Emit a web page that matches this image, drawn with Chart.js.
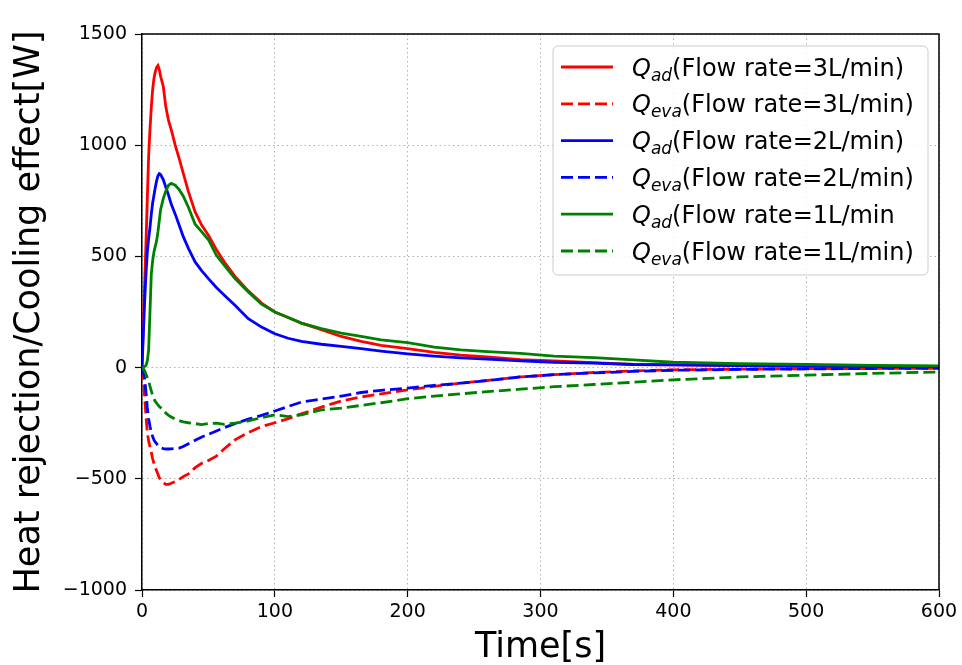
<!DOCTYPE html>
<html>
<head>
<meta charset="utf-8">
<title>Heat rejection / Cooling effect</title>
<script src="https://cdn.jsdelivr.net/npm/chart.js@4.4.0/dist/chart.umd.min.js"></script>
<style>
    html, body { margin: 0; padding: 0; background: #fff; }
    #wrap { width: 962px; height: 665px; }
</style>
</head>
<body>
<div id="wrap"><canvas id="chart" width="962" height="665"></canvas></div>
<script>
// time axis [s]
const timeS = [0, 1, 2, 3, 4, 5, 6, 7, 8, 9, 10, 11, 12, 13, 14, 16, 18, 20, 22, 25, 28, 31, 35, 40, 45, 50, 56, 62, 70, 80, 90,
    100, 110, 120, 135, 150, 165, 180, 200, 220, 240, 260, 285, 310, 340, 370, 400, 450, 500, 550, 600];

// Q_ad / Q_eva [W]
const qad3 = [0, 200, 380, 560, 760, 950, 1070, 1170, 1250, 1300, 1330, 1350, 1358, 1340, 1310, 1265, 1170, 1110, 1070, 1000, 940, 875, 790, 700, 640, 595, 530, 475, 410, 345, 290,
    250, 225, 200, 170, 140, 118, 100, 85, 68, 56, 48, 36, 30, 22, 14, 12, 9, 7, 5, 4];
const qeva3 = [0, -60, -130, -220, -290, -330, -355, -380, -410, -430, -450, -465, -480, -495, -505, -518, -525, -525, -520, -512, -503, -490, -478, -450, -430, -418, -398, -365, -325, -292, -265,
    -248, -230, -208, -178, -150, -132, -118, -100, -84, -70, -58, -42, -32, -22, -15, -10, -7, -5, -4, -3];
const qad2 = [0, 150, 300, 420, 520, 580, 630, 690, 740, 775, 810, 840, 862, 872, 868, 845, 810, 775, 735, 690, 640, 590, 535, 475, 435, 400, 360, 325, 280, 220, 182,
    152, 132, 118, 105, 95, 85, 74, 62, 52, 44, 38, 30, 24, 20, 14, 12, 9, 7, 6, 5];
const qeva2 = [0, -20, -50, -110, -180, -230, -264, -290, -310, -325, -335, -342, -350, -356, -360, -364, -366, -366, -365, -364, -362, -355, -342, -327, -312, -300, -285, -270, -252, -232, -215,
    -195, -175, -155, -142, -128, -112, -102, -92, -80, -70, -58, -42, -32, -24, -17, -12, -8, -6, -4, -3];
const qad1 = [0, 0, 5, 10, 30, 80, 250, 420, 480, 520, 545, 570, 610, 660, 710, 760, 795, 820, 828, 820, 800, 772, 720, 645, 610, 575, 505, 460, 400, 340, 285,
    250, 225, 200, 175, 155, 140, 125, 112, 92, 80, 72, 64, 52, 45, 35, 24, 18, 14, 10, 8];
const qeva1 = [0, -5, -15, -30, -45, -60, -85, -105, -125, -140, -152, -160, -168, -175, -180, -190, -205, -215, -222, -232, -238, -244, -248, -252, -256, -252, -250, -255, -250, -240, -225,
    -212, -220, -212, -190, -182, -170, -158, -140, -128, -118, -108, -97, -86, -76, -66, -55, -42, -34, -26, -20];

const xTicks = [0, 100, 200, 300, 400, 500, 600];
const yTicks = [-1000, -500, 0, 500, 1000, 1500];

// legend text: Q + subscript + rest
const legendSub = ['ad', 'eva', 'ad', 'eva', 'ad', 'eva'];
const legendRest = ['(Flow rate=3L/min)', '(Flow rate=3L/min)', '(Flow rate=2L/min)', '(Flow rate=2L/min)', '(Flow rate=1L/min', '(Flow rate=1L/min)'];

const series = [qad3, qeva3, qad2, qeva2, qad1, qeva1];
const colors = ['#ff0000', '#ff0000', '#0000ff', '#0000ff', '#008000', '#008000'];
const dashed = [false, true, false, true, false, true];
const DASH = [12, 5];
const LW = 2.8;
const FONT = "'DejaVu Sans', sans-serif";

// legend drawn by hand so that the subscripts come out right
const qLegend = {
    id: 'qLegend',
    afterDatasetsDraw(chart) {
        const ctx = chart.ctx;
        const area = chart.chartArea;
        const x0 = area.right - 386, y0 = area.top + 12, w = 375, h = 229;
        ctx.save();
        ctx.beginPath();
        ctx.roundRect(x0, y0, w, h, 5);
        ctx.fillStyle = 'rgba(255,255,255,0.85)';
        ctx.fill();
        ctx.strokeStyle = '#cccccc';
        ctx.lineWidth = 1;
        ctx.stroke();
        chart.data.datasets.forEach((ds, i) => {
            const y = y0 + 21 + i * 36.8;
            ctx.beginPath();
            ctx.setLineDash(dashed[i] ? DASH : []);
            ctx.strokeStyle = ds.borderColor;
            ctx.lineWidth = LW;
            ctx.moveTo(x0 + 8, y);
            ctx.lineTo(x0 + 60, y);
            ctx.stroke();
            ctx.setLineDash([]);

            ctx.fillStyle = '#000';
            ctx.textBaseline = 'alphabetic';
            ctx.textAlign = 'left';
            let tx = x0 + 79;
            const base = y + 8.5;
            ctx.font = 'italic 24px ' + FONT;
            ctx.fillText('Q', tx, base);
            tx += ctx.measureText('Q').width;
            ctx.font = 'italic 17px ' + FONT;
            ctx.fillText(legendSub[i], tx, base + 5);
            tx += ctx.measureText(legendSub[i]).width;
            ctx.font = '24px ' + FONT;
            ctx.fillText(legendRest[i], tx, base);
        });
        ctx.restore();
    },
    afterDraw(chart) {
        // top and right spines
        const ctx = chart.ctx;
        const a = chart.chartArea;
        ctx.save();
        ctx.strokeStyle = '#000';
        ctx.lineWidth = 1.5;
        ctx.beginPath();
        ctx.moveTo(a.left, a.top);
        ctx.lineTo(a.right, a.top);
        ctx.lineTo(a.right, a.bottom);
        ctx.stroke();
        ctx.restore();
    }
};

const datasets = series.map((vals, i) => ({
    label: 'Q' + legendSub[i] + legendRest[i],
    data: vals.map((v, k) => ({ x: timeS[k], y: v })),
    borderColor: colors[i],
    backgroundColor: colors[i],
    borderWidth: LW,
    borderDash: dashed[i] ? DASH : [],
    pointRadius: 0,
    tension: 0,
    fill: false,
    order: 6 - i
}));

const gridOpts = {
    color: '#b0b0b0',
    lineWidth: 1,
    tickColor: '#000',
    tickLength: 7,
    tickWidth: 1.2,
    tickBorderDash: []
};

new Chart(document.getElementById('chart'), {
    type: 'line',
    data: { datasets: datasets },
    options: {
        responsive: false,
        animation: false,
        layout: { padding: { top: 34, right: 23, left: 0, bottom: 0 } },
        plugins: {
            legend: { display: false },
            tooltip: { enabled: false }
        },
        scales: {
            x: {
                type: 'linear',
                min: 0,
                max: 600,
                afterBuildTicks: s => { s.ticks = xTicks.map(v => ({ value: v })); },
                afterFit: s => { s.height = 75; },
                ticks: { font: { family: FONT, size: 19 }, color: '#000', padding: 4, maxRotation: 0 },
                grid: gridOpts,
                border: { display: true, color: '#000', width: 1.5, dash: [1.5, 3] },
                title: { display: true, text: 'Time[s]', color: '#000', font: { family: FONT, size: 35 }, padding: { top: 0, bottom: -4 } }
            },
            y: {
                type: 'linear',
                min: -1000,
                max: 1500,
                afterBuildTicks: s => { s.ticks = yTicks.map(v => ({ value: v })); },
                afterFit: s => { s.width = 142; },
                ticks: {
                    font: { family: FONT, size: 19 },
                    color: '#000',
                    padding: 8,
                    callback: v => (v < 0 ? '\u2212' + Math.abs(v) : String(v))
                },
                grid: gridOpts,
                border: { display: true, color: '#000', width: 1.5, dash: [1.5, 3] },
                title: { display: true, text: 'Heat rejection/Cooling effect[W]', color: '#000', font: { family: FONT, size: 35 }, padding: { top: 9, bottom: 0 } }
            }
        }
    },
    plugins: [qLegend]
});
</script>
</body>
</html>
